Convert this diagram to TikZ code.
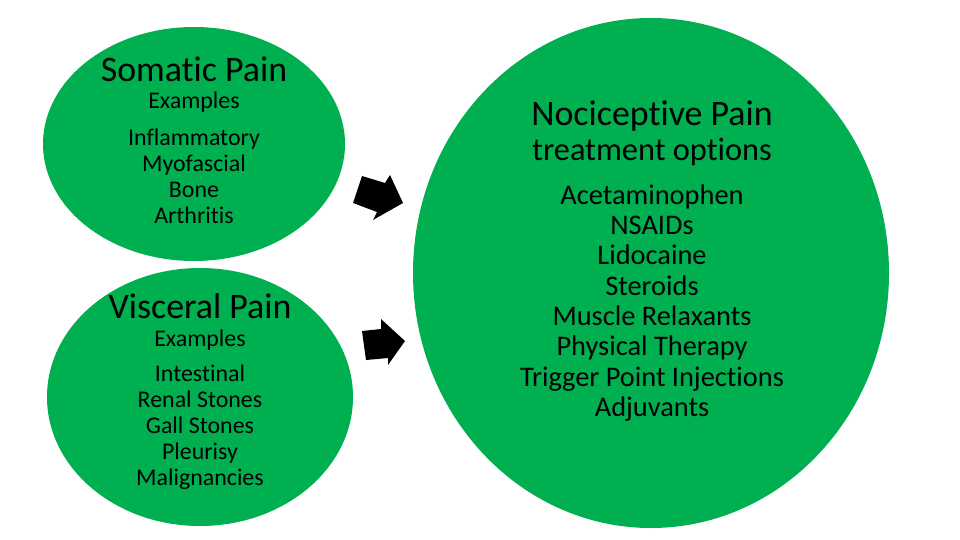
\documentclass[tikz,border=0pt]{standalone}
\usepackage{fontspec}
\setmainfont{Carlito}[Ligatures={NoCommon}]
\definecolor{offgreen}{HTML}{00B050}
\tikzset{
  blob/.style={fill=offgreen, draw=none},
  ttl/.style={font=\fontsize{36}{38}\selectfont, text=black},
  sub/.style={font=\fontsize{24}{26}\selectfont, text=black},
  lst/.style={font=\fontsize{24}{26}\selectfont, align=center, text=black},
  biglst/.style={font=\fontsize{28.5}{30.4}\selectfont, align=center, text=black},
  fatarrow/.style={fill=black, draw=none}
}
\begin{document}
\begin{tikzpicture}[x=1bp,y=-1bp]
\useasboundingbox (0,0) rectangle (960,540);
\fill[white] (0,0) rectangle (960,540);
% ellipses
\fill[blob] (194,144) ellipse [x radius=151, y radius=117];
\fill[blob] (200,397) ellipse [x radius=153, y radius=129];
\fill[blob] (651,273) ellipse [x radius=238, y radius=255];
% somatic
\node[ttl] (st) at (194,69) {Somatic Pain};
\node[sub] (se) at (194,102) {Examples};
\node[lst] (sl) at (194,176) {Inflammatory\\Myofascial\\Bone\\Arthritis};
% visceral
\node[ttl] (vt) at (200,306) {Visceral Pain};
\node[sub] (ve) at (200,340) {Examples};
\node[lst] (vl) at (200,427) {Intestinal\\Renal Stones\\Gall Stones\\Pleurisy\\Malignancies};
% nociceptive
\node[font=\fontsize{36}{38}\selectfont] (nt) at (652,116) {Nociceptive Pain};
\node[font=\fontsize{32.5}{34}\selectfont] (no) at (652,152) {treatment options};
\node[biglst] (nl) at (652,303) {Acetaminophen\\NSAIDs\\Lidocaine\\Steroids\\Muscle Relaxants\\Physical Therapy\\Trigger Point Injections\\Adjuvants};
% arrows
\fill[fatarrow] (362,176) -- (385,183) -- (390,175) -- (403,203) -- (373,220) -- (377,212) -- (353,203) -- cycle;
\fill[fatarrow] (362,331) -- (381,329) -- (381,319) -- (405,341) -- (388,365) -- (388,358) -- (366,360) -- cycle;
\end{tikzpicture}
\end{document}
